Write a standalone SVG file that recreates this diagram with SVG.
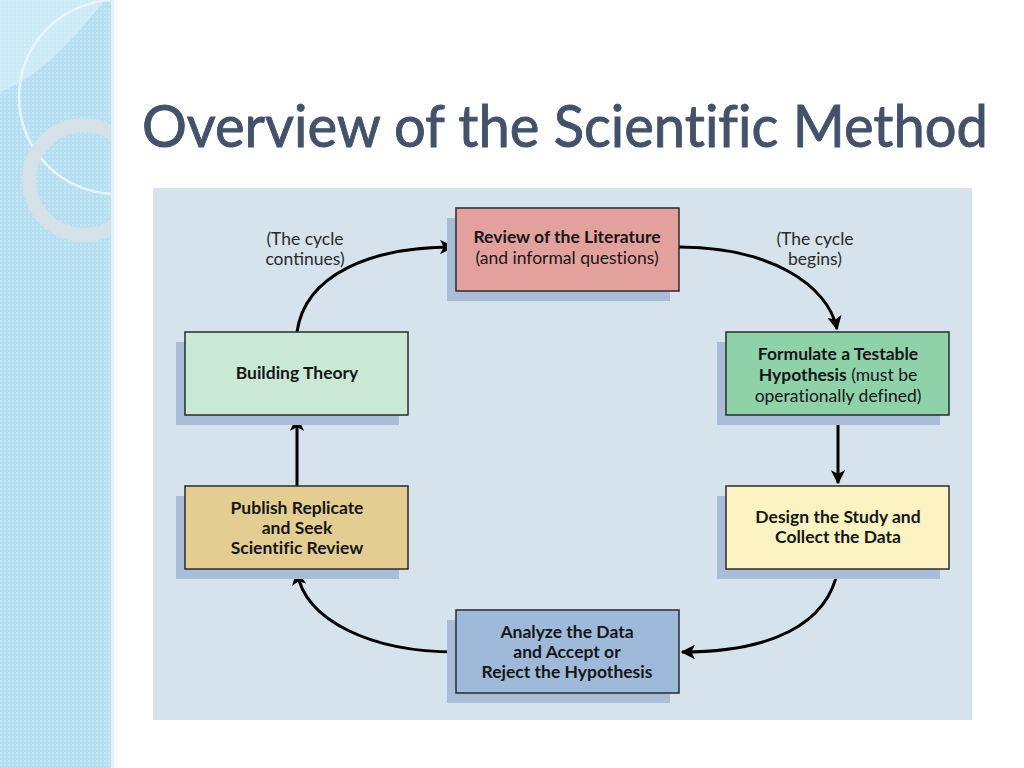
<svg xmlns="http://www.w3.org/2000/svg" width="1024" height="768" viewBox="0 0 1024 768">
<defs>
<style>
.box{stroke:#2b2b2b;stroke-width:1.5}
.shadow{fill:#a9bcd8}
.t{font-family:Lato,"Open Sans","Liberation Sans",sans-serif;font-size:17.5px;fill:#161616;text-anchor:middle;font-variant-ligatures:none}
.b{font-weight:bold}
.lbl{font-family:Lato,"Open Sans","Liberation Sans",sans-serif;font-size:17.5px;fill:#2a2a2a;text-anchor:middle}
.con{fill:none;stroke:#000;stroke-width:3}
</style>
<pattern id="dots" width="4" height="4" patternUnits="userSpaceOnUse">
<rect width="4" height="4" fill="#b6e0f1"/>
<circle cx="1" cy="1" r="0.9" fill="#cdebf7"/>
</pattern>
<clipPath id="side"><rect x="0" y="0" width="113" height="768"/></clipPath>
<marker id="arr" viewBox="0 0 10 10" refX="9" refY="5" markerWidth="4.8" markerHeight="4.8" orient="auto" markerUnits="strokeWidth">
<path d="M0,0 L10,5 L0,10 L2.5,5 z" fill="#000"/>
</marker>
</defs>

<rect width="1024" height="768" fill="#ffffff"/>

<g id="sidebar">
<rect x="0" y="0" width="113" height="768" fill="url(#dots)"/>
<g clip-path="url(#side)">
<path d="M0,0 L105,0 C80,30 45,75 0,92 z" fill="#dff3fb" opacity="0.55"/>
<circle cx="116" cy="97" r="97" fill="none" stroke="#e6f5fb" stroke-width="2.5"/>
<circle cx="84" cy="180" r="55" fill="none" stroke="#d5e1e8" stroke-width="14"/>
</g>
<rect x="111" y="0" width="3" height="768" fill="#e2f2f9"/>
</g>

<text id="title" x="565" y="147" font-family="Lato,'Open Sans','Liberation Sans',sans-serif" font-size="58" fill="#43526a" stroke="#43526a" stroke-width="0.9" text-anchor="middle" textLength="846" lengthAdjust="spacingAndGlyphs" style="font-variant-ligatures:none">Overview of the Scientific Method</text>

<rect id="panel" x="153" y="188" width="819" height="532" fill="#d6e2ec"/>

<g id="connectors">
<path class="con" d="M297,332 C305,275 370,247 453,247" marker-end="url(#arr)"/>
<path class="con" d="M679,247 C770,247 828,285 837,329" marker-end="url(#arr)"/>
<path class="con" d="M838,415 L838,483" marker-end="url(#arr)"/>
<path class="con" d="M838,569 C828,625 770,652 682,652" marker-end="url(#arr)"/>
<path class="con" d="M456,652 C370,652 305,620 297,572" marker-end="url(#arr)"/>
<path class="con" d="M297,486 L297,418" marker-end="url(#arr)"/>
</g>

<g id="label-continues">
<text class="lbl" x="305" y="245">(The cycle</text>
<text class="lbl" x="305" y="265">continues)</text>
</g>
<g id="label-begins">
<text class="lbl" x="815" y="245">(The cycle</text>
<text class="lbl" x="815" y="265">begins)</text>
</g>

<g id="review">
<rect class="shadow" x="447" y="218" width="223" height="83"/>
<rect class="box" x="456" y="208" width="223" height="83" fill="#e3a19d"/>
<text class="t b" x="567" y="243">Review of the Literature</text>
<text class="t" x="567" y="264">(and informal questions)</text>
</g>

<g id="formulate">
<rect class="shadow" x="717" y="342" width="223" height="83"/>
<rect class="box" x="726" y="332" width="223" height="83" fill="#8fd1a9"/>
<text class="t b" x="838" y="360">Formulate a Testable</text>
<text class="t" x="838" y="381"><tspan class="b">Hypothesis</tspan> (must be</text>
<text class="t" x="838" y="402">operationally defined)</text>
</g>

<g id="design">
<rect class="shadow" x="717" y="496" width="223" height="83"/>
<rect class="box" x="726" y="486" width="223" height="83" fill="#fdf2c1"/>
<text class="t b" x="838" y="523">Design the Study and</text>
<text class="t b" x="838" y="543">Collect the Data</text>
</g>

<g id="analyze">
<rect class="shadow" x="447" y="620" width="223" height="83"/>
<rect class="box" x="456" y="610" width="223" height="83" fill="#9eb9d9"/>
<text class="t b" x="567" y="638">Analyze the Data</text>
<text class="t b" x="567" y="658">and Accept or</text>
<text class="t b" x="567" y="678">Reject the Hypothesis</text>
</g>

<g id="publish">
<rect class="shadow" x="176" y="496" width="223" height="83"/>
<rect class="box" x="185" y="486" width="223" height="83" fill="#e4cd90"/>
<text class="t b" x="297" y="514">Publish Replicate</text>
<text class="t b" x="297" y="534">and Seek</text>
<text class="t b" x="297" y="554">Scientific Review</text>
</g>

<g id="building">
<rect class="shadow" x="176" y="342" width="223" height="83"/>
<rect class="box" x="185" y="332" width="223" height="83" fill="#c9e9d5"/>
<text class="t b" x="297" y="379">Building Theory</text>
</g>
</svg>
